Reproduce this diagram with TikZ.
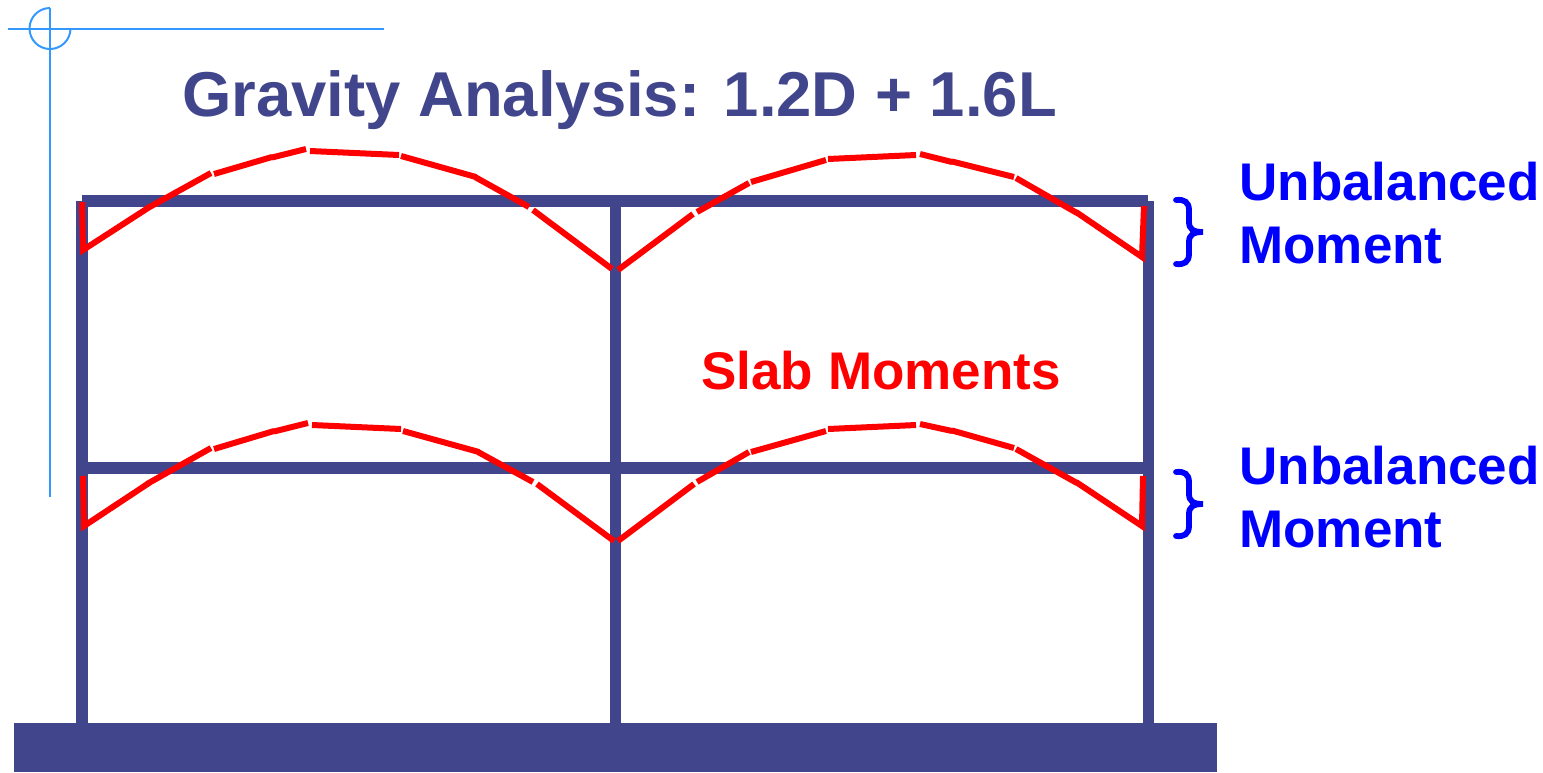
\documentclass[tikz,border=0pt]{standalone}
\usepackage{fontspec}
\setmainfont{Liberation Sans}
\usetikzlibrary{positioning}
\definecolor{framecol}{RGB}{65,70,140}
\definecolor{guidecol}{RGB}{51,153,255}
\begin{document}
\begin{tikzpicture}[x=0.5pt,y=-0.5pt,
    every node/.style={align=left,inner sep=0pt,anchor=base west},
    member/.style={draw=framecol,line width=5.8pt},
    moment/.style={draw=red,line width=3pt},
    guide/.style={draw=guidecol,line width=1pt},
    brace/.style={draw=blue,line width=2.9pt,line cap=round},
    bignote/.style={font=\fontsize{26.5}{31.5}\selectfont\bfseries}]
        \useasboundingbox (0,0) rectangle (1543,772);
        % guide lines
        \draw[guide] (8,29)--(384,29);
        \draw[guide] (50,8)--(50,497);
        \draw[guide] (50,8) arc[start angle=270,end angle=0,radius=20.5];
        % frame
        \fill[framecol] (14,723) rectangle (1217,772);
        \draw[member] (82,201)--(82,723);
        \draw[member] (615.5,201)--(615.5,723);
        \draw[member] (1148.5,201)--(1148.5,723);
        \draw[member] (82,201)--(1148,201);
        \draw[member] (82,468)--(1148,468);
        % upper slab moments
        \draw[moment] (82,202)--(83,250)--(148,208) (146,209)--(211,173) (214,174)--(272,157) (272,157.5)--(306,149)
            (310,151)--(399,155) (401,156)--(476,177) (475,177)--(529,207) (533,210)--(612,269);
        \draw[moment] (618,270)--(693,214) (697,212)--(749,183) (751,182)--(826,160) (828,159)--(916,155)
            (920,154)--(952,162) (952,161.5)--(1014,177) (1016,178)--(1077,213) (1076,212)--(1142,257)--(1144,206);
        % lower slab moments
        \draw[moment] (83,476)--(84,526)--(149,483) (147,484)--(211,448) (214,449)--(274,431) (274,431.5)--(308,423)
            (312,425)--(401,429) (403,431)--(479,452) (478,452)--(533,482) (537,484)--(614,541);
        \draw[moment] (618,541)--(694,484) (697,482)--(749,452) (751,452)--(826,431) (828,429)--(916,425)
            (920,424)--(952,431) (952,430.5)--(1014,448) (1016,449)--(1077,483) (1076,482)--(1142,526)--(1143,476);
        % braces
        \draw[brace] (1176,200) .. controls (1184,199) and (1189,202) .. (1189,210)
            -- (1189,222) .. controls (1189,229) and (1193,232) .. (1203,232)
            .. controls (1193,232) and (1189,235) .. (1189,242)
            -- (1189,254) .. controls (1189,262) and (1184,265) .. (1176,264);
        \draw[brace] (1176,472) .. controls (1184,471) and (1189,474) .. (1189,482)
            -- (1189,494) .. controls (1189,501) and (1193,504) .. (1203,504)
            .. controls (1193,504) and (1189,507) .. (1189,514)
            -- (1189,526) .. controls (1189,534) and (1184,537) .. (1176,536);
        % labels
        \node[text=framecol,font=\fontsize{31.7}{38}\selectfont\bfseries] (title) at (182,116) {Gravity Analysis: 1.2D + 1.6L};
        \node[bignote,text=red] (slab) at (701,389) {Slab Moments};
        \node[bignote,text=blue] (upper) at (1239,263) {Unbalanced\\Moment};
        \node[bignote,text=blue] (lower) at (1239,547) {Unbalanced\\Moment};
      \end{tikzpicture}
\end{document}
